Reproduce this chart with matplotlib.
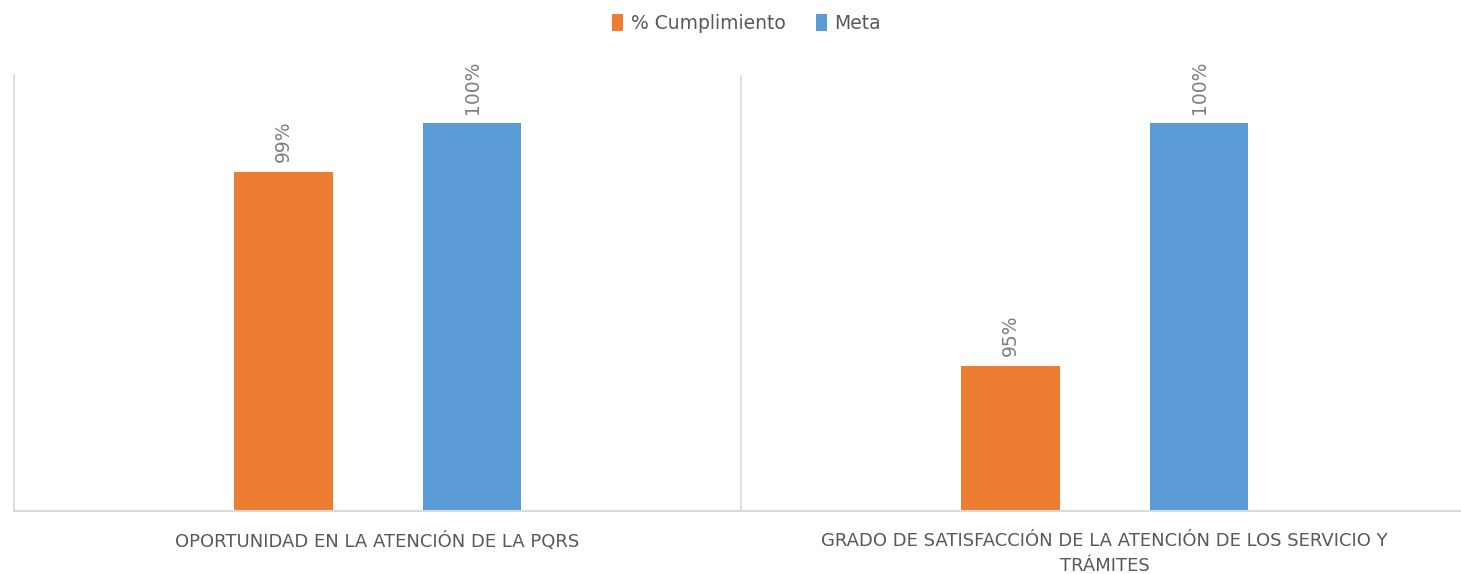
import matplotlib.pyplot as plt
import numpy as np

# data
categories = ["OPORTUNIDAD EN LA ATENCIÓN DE LA PQRS",
              "GRADO DE SATISFACCIÓN DE LA ATENCIÓN DE LOS SERVICIO Y\nTRÁMITES"]
cumplimiento = [0.99, 0.95]
meta = [1.00, 1.00]
series_names = ["% Cumplimiento", "Meta"]

orange = "#ED7D31"
blue = "#5B9BD5"
grid = "#D9D9D9"
text_col = "#595959"

fig = plt.figure(figsize=(14.61, 5.74), dpi=100)
ax = fig.add_axes([14 / 1461, 1 - 511 / 574, 1454 / 1461, (511 - 75) / 574])

x = np.arange(len(categories))
w = 0.136
b1 = ax.bar(x - 0.129, cumplimiento, w, color=orange, label=series_names[0])
b2 = ax.bar(x + 0.130, meta, w, color=blue, label=series_names[1])

ax.set_ylim(0.92, 1.01)
ax.set_xlim(-0.5, 1.5)

# data labels, rotated like the original
for bars in (b1, b2):
    for r in bars:
        ax.annotate(f"{r.get_height():.0%}",
                    (r.get_x() + r.get_width() / 2, r.get_height()),
                    xytext=(0, 7), textcoords="offset points",
                    rotation=90, ha="center", va="bottom",
                    fontsize=13.5, color="#7F7F7F")

# separator between categories
ax.axvline(0.5, color=grid, linewidth=1.2)

for s in ("top", "right"):
    ax.spines[s].set_visible(False)
ax.spines["left"].set_color(grid)
ax.spines["bottom"].set_color(grid)
ax.spines["left"].set_linewidth(1.2)
ax.spines["bottom"].set_linewidth(1.5)

ax.set_yticks([])
ax.set_xticks(x)
ax.set_xticklabels(categories, fontsize=13, color=text_col,
                   linespacing=1.5)
ax.tick_params(axis="x", length=0, pad=15)
for t in ax.get_xticklabels():
    t.set_verticalalignment("top")

fig.legend(loc="upper center", bbox_to_anchor=(0.511, 1.005), ncol=2,
           frameon=False, fontsize=13.5, labelcolor=text_col,
           handlelength=0.6, handleheight=1.0, handletextpad=0.4,
           columnspacing=1.6)

fig.savefig("out.png", dpi=100)
